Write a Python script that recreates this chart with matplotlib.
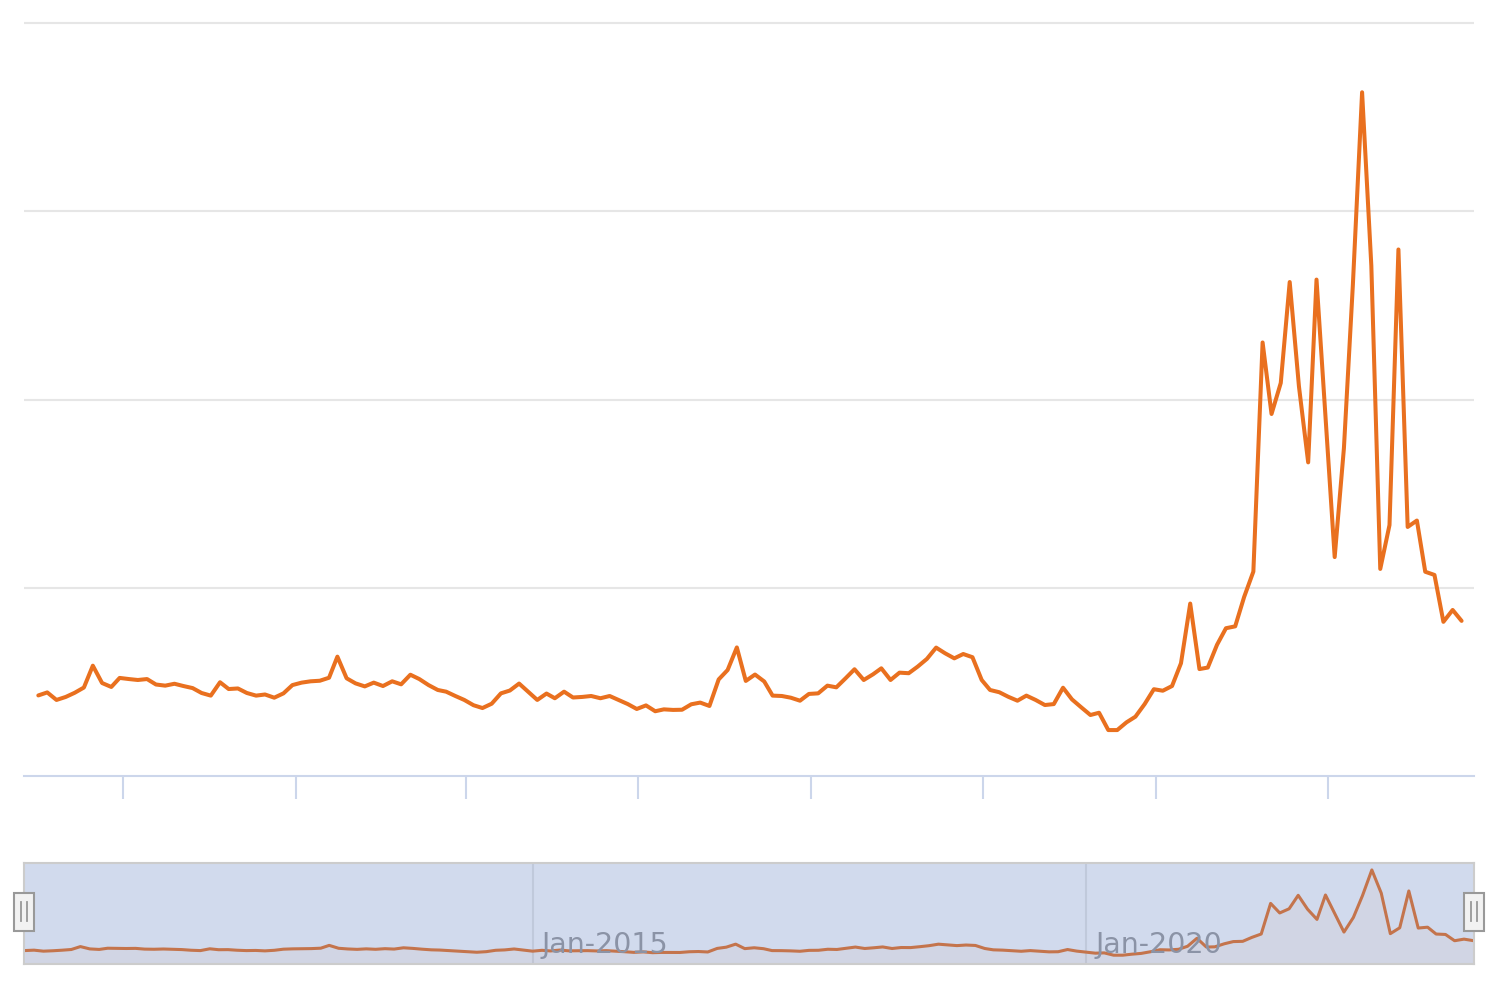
import numpy as np
import pandas as pd
import matplotlib
matplotlib.use("Agg")
import matplotlib.pyplot as plt
import matplotlib.dates as mdates
from matplotlib.patches import Rectangle
from matplotlib.lines import Line2D

# monthly series, Jun 2010 onwards
values = [
    42.8, 44.4, 40.4, 42.0, 44.2, 47.0, 58.6, 49.4, 47.3, 52.1,
    51.5, 51.0, 51.5, 48.6, 48.0, 49.0, 47.8, 46.7, 44.1, 42.7,
    49.8, 46.2, 46.5, 44.1, 42.7, 43.3, 41.6, 43.9, 48.3, 49.6,
    50.3, 50.6, 52.2, 63.4, 51.9, 49.2, 47.6, 49.6, 47.8, 50.3,
    48.7, 53.8, 51.5, 48.3, 45.7, 44.8, 42.5, 40.4, 37.6, 36.1,
    38.4, 43.9, 45.4, 49.1, 44.8, 40.4, 43.8, 41.3, 44.8, 41.7,
    42.0, 42.5, 41.3, 42.5, 40.4, 38.2, 35.6, 37.5, 34.4, 35.4,
    35.1, 35.2, 38.1, 39.0, 37.2, 51.3, 56.3, 68.3, 50.5, 53.9,
    50.2, 42.7, 42.5, 41.6, 40.0, 43.6, 43.9, 48.0, 47.1, 51.9,
    56.7, 51.0, 54.0, 57.2, 51.0, 54.9, 54.6, 58.1, 62.2, 68.2,
    65.2, 62.5, 64.8, 63.1, 51.0, 45.7, 44.5, 42.1, 40.0, 42.7,
    40.4, 37.7, 38.2, 46.9, 40.7, 36.5, 32.4, 33.6, 24.4, 24.4,
    28.5, 31.5, 38.2, 46.1, 45.3, 47.8, 59.9, 91.6, 56.8, 57.6,
    69.7, 78.5, 79.5, 95.1, 108.6, 230.3, 192.3, 208.8, 262.4, 207.0,
    166.6, 263.7, 189.1, 116.3, 174.2, 260.8, 363.2, 271.1, 110.0, 133.3,
    279.7, 132.3, 135.7, 108.5, 106.8, 81.9, 88.2, 82.4,
]
start_month = "2010-06-01"
nav_labels = ["Jan-2015", "Jan-2020"]
nav_label_dates = ["2015-01-01", "2020-01-01"]
# main axis ticks fall every ~19 months (in month steps from the first point)
main_tick_steps = [9.34, 28.42, 47.18, 66.15, 85.23, 104.2, 123.3, 142.3]

dates = pd.date_range(start_month, periods=len(values), freq="MS")
xnum = mdates.date2num(dates)
step = (xnum[-1] - xnum[0]) / (len(values) - 1)

W, H = 1500, 1000
fig = plt.figure(figsize=(15, 10), dpi=100)

def fx(px):
    return px / W

def fy(py):
    return 1 - py / H

LINE = "#e9701f"
GRID = "#e6e6e6"
AXIS = "#ccd6eb"

# main chart
ax = fig.add_axes([fx(24), fy(776), fx(1450), (776 - 20) / H])
ax.plot(xnum, values, color=LINE, lw=2.9, solid_joinstyle="round", solid_capstyle="round")
ax.set_xlim(xnum[0] - 1.58 * step, xnum[-1] + 1.37 * step)
ax.set_ylim(0, 400 * 756 / 753)
ax.set_yticks([100, 200, 300, 400])
ax.grid(axis="y", color=GRID, lw=1.5)
ax.set_axisbelow(True)
ax.set_xticks([xnum[0] + s * step for s in main_tick_steps])
ax.tick_params(axis="x", direction="out", length=16.5, width=1.5, color=AXIS,
               labelbottom=False)
ax.tick_params(axis="y", length=0, labelleft=False)
for side in ["top", "left", "right"]:
    ax.spines[side].set_visible(False)
ax.spines["bottom"].set_color(AXIS)
ax.spines["bottom"].set_linewidth(1.5)

# navigator
nav = fig.add_axes([fx(24), fy(964), fx(1450), 101 / H])
nav.set_facecolor("#d1daed")
nav.plot(xnum, values, color="#c4744c", lw=2.2, solid_joinstyle="round")
nav.fill_between(xnum, values, -20, color=LINE, alpha=0.04, lw=0)
nav.set_xlim(xnum[0] - 0.1 * step, xnum[-1] + 0.1 * step)
nav.set_ylim(-10.6, 390.8)
nav.set_yticks([])
lab_x = mdates.date2num(pd.to_datetime(nav_label_dates))
nav.set_xticks(lab_x)
nav.grid(axis="x", color="#c0c9db", lw=1.5)
nav.set_axisbelow(True)
nav.tick_params(axis="x", length=0, labelbottom=False)
for s in nav.spines.values():
    s.set_color("#cccccc")
    s.set_linewidth(1.5)
for lx, txt in zip(lab_x, nav_labels):
    nav.annotate(txt, xy=(lx, 0.11), xycoords=("data", "axes fraction"),
                 xytext=(6.5, 0), textcoords="offset points",
                 ha="left", va="baseline", fontsize=20.5, color="#8b93a6",
                 family="DejaVu Sans")

# navigator handles
for cx in [24, 1474]:
    fig.add_artist(Rectangle((fx(cx - 10), fy(931)), fx(20), 38 / H,
                             transform=fig.transFigure, facecolor="#f2f2f2",
                             edgecolor="#999999", lw=1.5, zorder=10))
    for dx in [-3, 3]:
        fig.add_artist(Line2D([fx(cx + dx), fx(cx + dx)], [fy(921), fy(902)],
                              transform=fig.transFigure, color="#999999",
                              lw=1.3, zorder=11))

fig.savefig("out.png", dpi=100)
